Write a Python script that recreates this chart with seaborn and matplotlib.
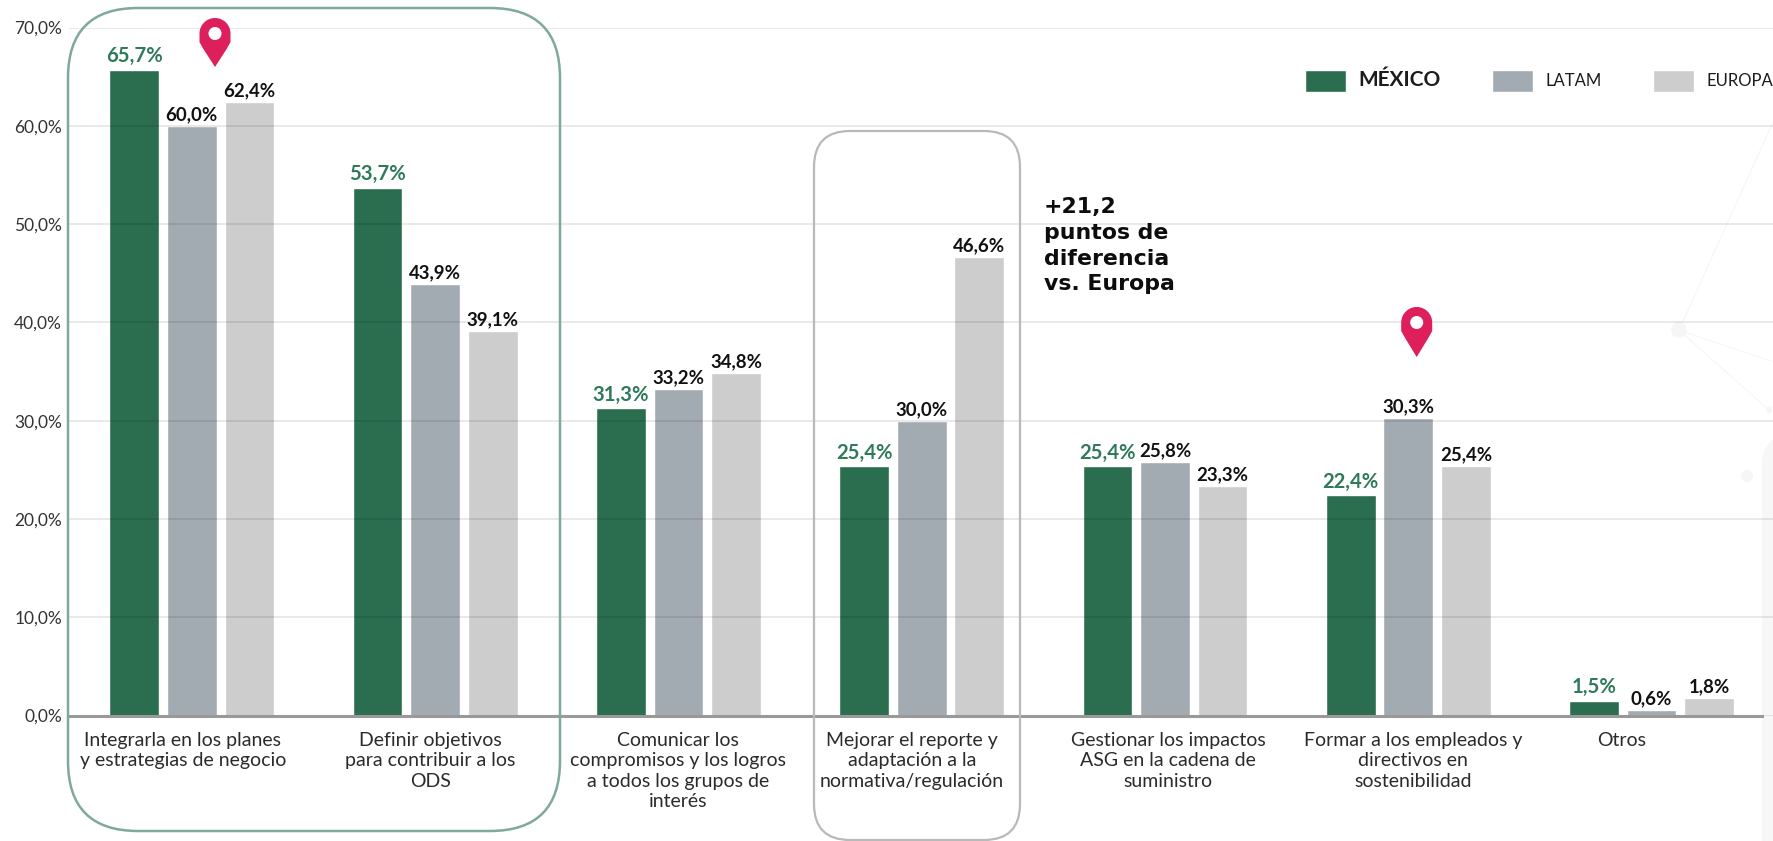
import numpy as np
import pandas as pd
import seaborn as sns
import matplotlib
matplotlib.use("Agg")
import matplotlib.pyplot as plt
from matplotlib.patches import FancyBboxPatch, PathPatch, Circle
from matplotlib.path import Path
from matplotlib.transforms import ScaledTranslation

categories = ["Integrarla en los planes\ny estrategias de negocio",
              "Definir objetivos\npara contribuir a los\nODS",
              "Comunicar los\ncompromisos y los logros\na todos los grupos de\ninterés",
              "Mejorar el reporte y\nadaptación a la\nnormativa/regulación",
              "Gestionar los impactos\nASG en la cadena de\nsuministro",
              "Formar a los empleados y\ndirectivos en\nsostenibilidad",
              "Otros"]
mexico = [65.7, 53.7, 31.3, 25.4, 25.4, 22.4, 1.5]
latam = [60.0, 43.9, 33.2, 30.0, 25.8, 30.3, 0.6]
europa = [62.4, 39.1, 34.8, 46.6, 23.3, 25.4, 1.8]
series_names = ["MÉXICO", "LATAM", "EUROPA"]
y_ticks = [0, 10, 20, 30, 40, 50, 60, 70]
note_lines = "+21,2\npuntos de\ndiferencia\nvs. Europa"
label_shift_px = [-9, -5, 0, -10, 3, 5, -30]

C_MX, C_LA, C_EU = "#2a6e4f", "#a3abb2", "#cdcdcd"
W, H = 1774, 841
X0, STEP = 191.8, 243.3

sns.set_theme(style="white")
plt.rcParams["font.family"] = ["Lato", "DejaVu Sans"]

df = pd.DataFrame({"cat": categories * 3,
                   "serie": sum([[s] * len(categories) for s in series_names], []),
                   "valor": mexico + latam + europa})

fig = plt.figure(figsize=(W / 100, H / 100), dpi=100, facecolor="white")

# background decoration, in pixel coordinates
bg = fig.add_axes([0, 0, 1, 1], zorder=0)
bg.set_xlim(0, W); bg.set_ylim(H, 0); bg.axis("off")
faint = "#f6f6f6"
for p in [((1679, 330), (1774, 120)), ((1679, 330), (1774, 362)), ((1679, 330), (1769, 410))]:
    bg.plot(*zip(*p), color=faint, lw=0.8)
for (cx, cy, r) in [(1679, 330, 8), (1769, 410, 3), (1747, 476, 6)]:
    bg.add_patch(Circle((cx, cy), r, color=faint, lw=0))
bg.add_patch(FancyBboxPatch((1762, 435), 60, 500, boxstyle="round,pad=0,rounding_size=30",
                            fc="#f7f7f7", ec="none"))

L, R, T, B = 69, W, 27.5, 715.5
ax = fig.add_axes([L / W, 1 - B / H, (R - L) / W, (B - T) / H], zorder=1)
ax.patch.set_alpha(0)

sns.barplot(data=df, x="cat", y="valor", hue="serie", order=categories, hue_order=series_names,
            palette=[C_MX, C_LA, C_EU], width=0.71, gap=0.137, saturation=1,
            legend=True, ax=ax)

ax.set_xlim((L - X0) / STEP, (R - X0) / STEP)
ax.set_ylim(0, 70)
ax.set_xlabel(""); ax.set_ylabel("")
ax.set_yticks(y_ticks)
ax.set_yticklabels([f"{v:.1f}%".replace(".", ",") for v in y_ticks], fontsize=12.5, color="#333333")
ax.tick_params(axis="y", length=0, pad=5)
ax.tick_params(axis="x", length=0, pad=12)
ax.set_xticks(range(len(categories)))
ax.set_xticklabels(categories, fontsize=14, color="#2b2b2b", linespacing=1.23, va="top")
for lab, dx in zip(ax.get_xticklabels(), label_shift_px):
    lab.set_transform(lab.get_transform() + ScaledTranslation(dx / 100, 0, fig.dpi_scale_trans))
ax.yaxis.grid(True, color="black", alpha=0.10, lw=1.2)
ax.set_axisbelow(False)
for s in ["top", "right", "left"]:
    ax.spines[s].set_visible(False)
ax.spines["bottom"].set_color("#999999")
ax.spines["bottom"].set_linewidth(2.2)
ax.spines["bottom"].set_bounds((L - X0) / STEP, (1762 - X0) / STEP)
ax.spines["bottom"].set_zorder(5)

for cont, vals, col, fs, fw, pad in zip(ax.containers, [mexico, latam, europa],
                                        ["#2f7a59", "#111111", "#111111"],
                                        [14.6, 13.4, 13.4], ["bold", "bold", "bold"], [2.4, 2, 2]):
    labs = [f"{v:.1f}%".replace(".", ",") for v in vals]
    ax.bar_label(cont, labels=labs, color=col, fontsize=fs, fontweight=fw, padding=pad, clip_on=False)

# legend
leg = ax.legend(loc="upper left", bbox_to_anchor=(1305 / W, 1 - 70 / H), bbox_transform=fig.transFigure,
                ncol=3, frameon=False, fontsize=12, handlelength=2.46, handleheight=1.62,
                columnspacing=3.1, handletextpad=0.74, borderaxespad=0, borderpad=0)
leg.get_texts()[0].set_fontweight("bold")
leg.get_texts()[0].set_fontsize(15)
for t in leg.get_texts():
    t.set_color("#1c1c1c")

# overlay
ov = fig.add_axes([0, 0, 1, 1], zorder=3)
ov.set_xlim(0, W); ov.set_ylim(H, 0); ov.axis("off"); ov.patch.set_alpha(0)
ov.add_patch(FancyBboxPatch((68, 8), 492, 823, boxstyle="round,pad=0,rounding_size=70",
                            fc="none", ec="#7fa998", lw=1.8))
ov.add_patch(FancyBboxPatch((814, 131), 206, 709, boxstyle="round,pad=0,rounding_size=36",
                            fc="none", ec="#b9b9b9", lw=1.6))


def pin(cx, top, bottom, w):
    r = w / 2
    cy = top + r
    k = 0.5523 * r
    verts = [(cx, bottom), (cx - r * 0.75, cy + r), (cx - r, cy + k), (cx - r, cy),
             (cx - r, cy - k), (cx - k, top), (cx, top),
             (cx + k, top), (cx + r, cy - k), (cx + r, cy),
             (cx + r, cy + k), (cx + r * 0.75, cy + r), (cx, bottom), (cx, bottom)]
    codes = [Path.MOVETO, Path.LINETO, Path.LINETO, Path.LINETO,
             Path.CURVE4, Path.CURVE4, Path.CURVE4, Path.CURVE4, Path.CURVE4, Path.CURVE4,
             Path.LINETO, Path.LINETO, Path.LINETO, Path.CLOSEPOLY]
    ov.add_patch(PathPatch(Path(verts, codes), fc="#dd1f5b", ec="none"))
    ov.add_patch(Circle((cx, cy), r * 0.42, fc="white", ec="none"))


pin(215, 18, 67, 31)
pin(1416.7, 307, 357, 31)

ov.text(1044, 197, note_lines, fontsize=15.8, fontweight="bold", color="#0d0d0d",
        family=["DejaVu Sans"], va="top", ha="left", linespacing=1.36)

fig.savefig("out.png", dpi=100, facecolor="white")
